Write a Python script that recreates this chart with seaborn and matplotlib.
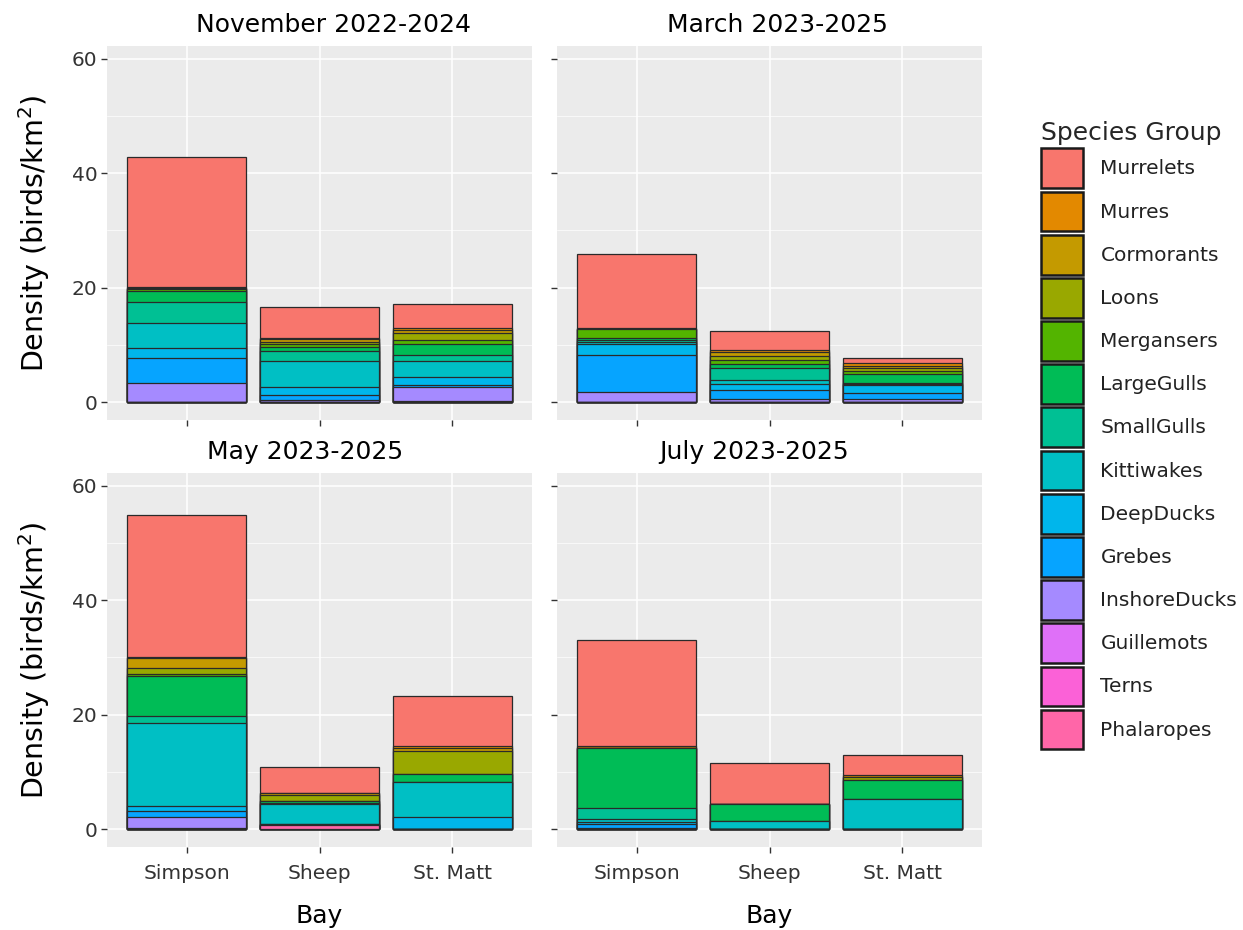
import numpy as np
import pandas as pd
import matplotlib
matplotlib.use("Agg")
import matplotlib.pyplot as plt
from matplotlib.patches import Patch
from matplotlib.ticker import MultipleLocator
import seaborn as sns

# ---------------- data ----------------
species = ["Murrelets", "Murres", "Cormorants", "Loons", "Mergansers", "LargeGulls",
           "SmallGulls", "Kittiwakes", "DeepDucks", "Grebes", "InshoreDucks",
           "Guillemots", "Terns", "Phalaropes"]
bays = ["Simpson", "Sheep", "St. Matt"]
titles = ["November 2022-2024", "March 2023-2025", "May 2023-2025", "July 2023-2025"]

# rows follow `species`, columns follow `bays`
nov = [[22.55, 5.35, 4.1], [0.2, 0.15, 0.4], [0.15, 0.5, 0.45], [0.15, 0.5, 1.3],
       [0.2, 0.45, 0.7], [2.05, 0.7, 1.9], [3.55, 1.75, 1.0], [4.5, 4.5, 2.8],
       [1.7, 1.45, 1.45], [4.4, 0.9, 0.3], [3.3, 0.25, 2.5], [0.0, 0.1, 0.2],
       [0.0, 0.0, 0.0], [0.0, 0.0, 0.0]]
mar = [[12.8, 3.3, 0.9], [0.2, 0.3, 0.6], [0.0, 0.7, 0.3], [0.0, 0.75, 0.5],
       [1.6, 0.7, 0.45], [0.3, 0.75, 1.6], [0.4, 2.0, 0.2], [0.4, 0.7, 0.2],
       [1.85, 1.15, 1.45], [6.5, 1.55, 1.05], [1.75, 0.55, 0.5], [0.0, 0.0, 0.0],
       [0.0, 0.0, 0.0], [0.0, 0.0, 0.0]]
may = [[24.8, 4.45, 8.6], [0.2, 0.0, 0.4], [1.75, 0.4, 0.5], [1.15, 1.05, 4.1],
       [0.3, 0.0, 0.0], [7.0, 0.3, 1.35], [1.15, 0.2, 0.0], [14.5, 3.4, 6.05],
       [1.0, 0.15, 2.2], [0.9, 0.15, 0.0], [2.0, 0.0, 0.0], [0.2, 0.0, 0.0],
       [0.0, 0.0, 0.0], [0.0, 0.7, 0.0]]
jul = [[18.65, 7.3, 3.6], [0.2, 0.0, 0.3], [0.0, 0.0, 0.0], [0.0, 0.0, 0.5],
       [0.0, 0.0, 0.0], [10.6, 2.9, 3.25], [1.9, 0.0, 0.0], [0.45, 1.45, 5.35],
       [0.4, 0.0, 0.0], [0.6, 0.0, 0.0], [0.3, 0.0, 0.0], [0.0, 0.0, 0.0],
       [0.0, 0.0, 0.0], [0.0, 0.0, 0.0]]
months = [nov, mar, may, jul]


# ggplot2-style hue palette (HCL, l=65, c=100)
def hcl_hex(h, c=100.0, l=65.0):
    hr = np.deg2rad(h)
    u, v = c * np.cos(hr), c * np.sin(hr)
    Xn, Yn, Zn = 95.047, 100.0, 108.883
    Y = Yn * ((l + 16) / 116) ** 3
    den = Xn + 15 * Yn + 3 * Zn
    un, vn = 4 * Xn / den, 9 * Yn / den
    up, vp = u / (13 * l) + un, v / (13 * l) + vn
    X = 9 * Y * up / (4 * vp)
    Z = Y * (12 - 3 * up - 20 * vp) / (4 * vp)
    xyz = np.array([X, Y, Z]) / 100.0
    M = np.array([[3.240479, -1.537150, -0.498535],
                  [-0.969256, 1.875992, 0.041556],
                  [0.055648, -0.204043, 1.057311]])
    rgb = M @ xyz
    rgb = np.where(rgb > 0.0031308, 1.055 * np.clip(rgb, 0, None) ** (1 / 2.4) - 0.055, 12.92 * rgb)
    rgb = np.clip(rgb, 0, 1)
    return matplotlib.colors.to_hex(rgb)


n = len(species)
hues = np.linspace(15, 375, n + 1)[:-1]
palette = {sp: hcl_hex(h) for sp, h in zip(species, hues)}

# ---------------- style ----------------
sns.set_theme(style="darkgrid", rc={
    "axes.facecolor": "#EBEBEB",
    "grid.color": "white",
    "axes.edgecolor": "#EBEBEB",
    "axes.linewidth": 0,
    "xtick.bottom": True,
    "ytick.left": True,
    "xtick.color": "#333333",
    "ytick.color": "#333333",
})
plt.rcParams["font.family"] = ["DejaVu Sans"]

W, H = 1243, 930
fig = plt.figure(figsize=(W / 100, H / 100), dpi=100)

# panel boxes in pixels: (left, top, right, bottom)
boxes = [(107, 46, 532, 420), (557, 46, 982, 420),
         (107, 473, 532, 847), (557, 473, 982, 847)]
title_x = [0.532, 0.519, 0.465, 0.464]

for idx, (vals, title, (l, t, r, b)) in enumerate(zip(months, titles, boxes)):
    ax = fig.add_axes([l / W, 1 - b / H, (r - l) / W, (b - t) / H])
    arr = np.array(vals)
    # cumulative tops, stacked so that the last species sits at the bottom
    cum = np.cumsum(arr[::-1], axis=0)[::-1]
    for i, sp in enumerate(species):
        df = pd.DataFrame({"Bay": bays, "Top": cum[i]})
        sns.barplot(data=df, x="Bay", y="Top", order=bays, color=palette[sp],
                    saturation=1, width=0.9, edgecolor="#2a2a2a", linewidth=0.9,
                    errorbar=None, ax=ax, zorder=2)
    ax.set_axisbelow(True)
    ax.set_xlim(-0.6, 2.6)
    ax.set_ylim(-3.1, 62.2)
    ax.yaxis.set_major_locator(MultipleLocator(20))
    ax.yaxis.set_minor_locator(MultipleLocator(10))
    ax.grid(True, which="major", color="white", linewidth=1.1)
    ax.grid(True, which="minor", axis="y", color="white", linewidth=0.5)
    ax.xaxis.grid(True, which="major", color="white", linewidth=1.1)
    ax.tick_params(axis="both", which="major", length=4, width=1, color="#333333",
                   labelsize=14.5, labelcolor="#333333")
    ax.tick_params(axis="y", which="minor", length=0)
    ax.tick_params(axis="x", pad=8)
    ax.tick_params(axis="y", pad=3)
    for s in ax.spines.values():
        s.set_visible(False)
    ax.set_title(title, fontsize=18, color="black", pad=10, x=title_x[idx])
    if idx in (0, 2):
        ax.set_ylabel("Density (birds/km$^2$)", fontsize=20.5, color="black", labelpad=14)
    else:
        ax.set_ylabel("")
        ax.tick_params(axis="y", labelleft=False)
    if idx in (2, 3):
        ax.set_xlabel("Bay", fontsize=18, color="black", labelpad=15)
    else:
        ax.set_xlabel("")
        ax.tick_params(axis="x", labelbottom=False)

handles = [Patch(facecolor=palette[sp], edgecolor="#1a1a1a", linewidth=1.8) for sp in species]
leg = fig.legend(handles, species, loc="upper left",
                 bbox_to_anchor=(1041 / W, 1 - 121 / H), frameon=False,
                 title="Species Group", fontsize=14.5, title_fontsize=18,
                 handlelength=2.1, handleheight=2.66, labelspacing=0.17,
                 handletextpad=0.85, alignment="left", borderaxespad=0, borderpad=0)
for txt in leg.get_texts():
    txt.set_color("#222222")

fig.savefig("out.png", dpi=100, facecolor="white")
